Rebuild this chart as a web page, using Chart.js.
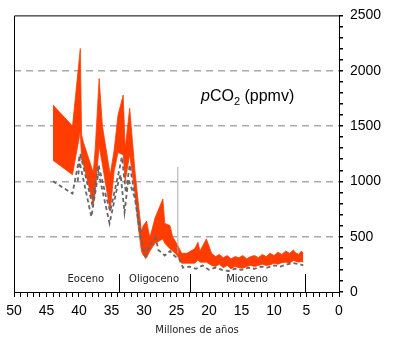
<!DOCTYPE html>
<html>
<head>
<meta charset="utf-8">
<script src="https://cdn.jsdelivr.net/npm/chart.js@4.4.1/dist/chart.umd.min.js"></script>
<style>
  html, body { margin: 0; padding: 0; background: #fff; }
  #wrap { width: 400px; height: 351px; }
</style>
</head>
<body>
<div id="wrap"><canvas id="co2Chart"></canvas></div>
<script>
// age in millions of years, band of pCO2 estimates (ppmv)
const bandAges  = [44, 41, 39.8, 39.6, 39.3, 37.8, 37.5, 36.9, 36.4, 35.2, 34.6, 34, 33.2, 32.9, 32.2, 31.4, 30.9, 30.4, 30.1, 29.6, 29.1, 28.3, 27.1, 26.8, 26, 25.6, 25.2, 24.8, 24.2, 23.4, 22.2, 21.7, 21.4, 20.4, 19.6, 19, 18.4, 17.8, 17.2, 16.6, 16, 15.4, 14.8, 14.2, 13.6, 13, 12.4, 11.8, 11.2, 10.6, 10, 9.4, 8.8, 8.2, 7.6, 7, 6.8, 6.2, 5.8, 5.5];
const bandUpper = [1690, 1500, 2200, 1420, 1350, 1080, 1300, 1930, 1500, 1060, 1280, 1600, 1780, 1300, 1660, 1100, 820, 550, 600, 640, 490, 670, 840, 620, 600, 500, 460, 420, 350, 350, 390, 450, 370, 480, 350, 320, 340, 310, 330, 300, 320, 310, 330, 300, 320, 330, 310, 340, 320, 350, 330, 360, 340, 370, 350, 380, 360, 340, 370, 350];
const bandLower = [1190, 1060, 1450, 1200, 1150, 790, 900, 1320, 1150, 730, 1090, 1260, 1240, 1000, 1240, 900, 600, 370, 330, 310, 370, 440, 480, 440, 390, 370, 350, 320, 260, 260, 260, 290, 270, 270, 240, 230, 250, 220, 240, 210, 230, 220, 215, 230, 240, 230, 240, 250, 240, 245, 260, 250, 265, 270, 260, 285, 280, 270, 275, 270];

// dashed reference curves
const lowAges  = [44, 41, 40, 38.1, 37, 35.3, 34, 33.6, 33, 32.4, 31.4, 30.6, 29.8, 29.2, 28.2, 27.8, 26.8, 26, 25.2, 24.6, 24, 23, 22, 21, 20, 19, 18, 17, 16, 15, 14, 13, 12, 11, 10, 9, 8, 7, 6, 5.5];
const lowVals  = [1000, 890, 1200, 680, 1080, 620, 980, 1060, 720, 1020, 850, 520, 320, 420, 490, 380, 330, 370, 320, 300, 220, 230, 210, 240, 200, 220, 200, 190, 210, 200, 220, 210, 230, 220, 240, 230, 250, 260, 250, 240];
const midAges  = [40.2, 39.8, 38, 37, 36, 35.2, 34, 33.4, 32.8, 32.2, 31.2, 30.4];
const midVals  = [1000, 1250, 800, 1150, 900, 730, 1050, 1220, 900, 1150, 800, 500];
const spikeAges = [24.8, 24.8];
const spikeVals = [350, 1130];

// epochs
const epochNames  = ['Eoceno', 'Oligoceno', 'Mioceno'];
const epochBounds = [44, 33.9, 23, 5.3];

const pts = (xs, ys) => xs.map((x, i) => ({ x: x, y: ys[i] }));
const red = '#ff3d00';

const decor = {
  id: 'decor',
  afterDraw(chart) {
    const { ctx, chartArea: a, scales: { x, y } } = chart;
    ctx.save();
    // frame top and left
    ctx.strokeStyle = '#000';
    ctx.lineWidth = 1;
    ctx.beginPath();
    ctx.moveTo(a.left + 0.5, a.bottom);
    ctx.lineTo(a.left + 0.5, a.top + 0.5);
    ctx.lineTo(a.right, a.top + 0.5);
    ctx.stroke();

    // epoch separators and names
    ctx.font = '10px "DejaVu Sans"';
    ctx.fillStyle = '#222';
    ctx.textAlign = 'center';
    ctx.textBaseline = 'middle';
    for (let i = 1; i < epochBounds.length; i++) {
      const px = Math.round(x.getPixelForValue(epochBounds[i])) + 0.5;
      ctx.beginPath();
      ctx.moveTo(px, a.bottom);
      ctx.lineTo(px, a.bottom - 18);
      ctx.stroke();
    }
    epochNames.forEach((n, i) => {
      const mid = (epochBounds[i] + epochBounds[i + 1]) / 2;
      ctx.fillText(n, x.getPixelForValue(mid), a.bottom - 13);
    });

    // x axis title
    ctx.fillText('Millones de años', 197, 330);

    // pCO2 label
    ctx.textAlign = 'left';
    ctx.textBaseline = 'alphabetic';
    ctx.fillStyle = '#000';
    let cx = 201, by = 100.5;
    ctx.font = 'italic 16px "Liberation Sans"';
    ctx.fillText('p', cx, by);
    cx += ctx.measureText('p').width;
    ctx.font = '16px "Liberation Sans"';
    ctx.fillText('CO', cx, by);
    cx += ctx.measureText('CO').width;
    ctx.font = '11px "Liberation Sans"';
    ctx.fillText('2', cx, by + 4);
    cx += ctx.measureText('2').width;
    ctx.font = '16px "Liberation Sans"';
    ctx.fillText(' (ppmv)', cx, by);
    ctx.restore();
  }
};

const ctx = document.getElementById('co2Chart').getContext('2d');
const co2Chart = new Chart(ctx, {
  type: 'line',
  data: {
    datasets: [
      {
        data: pts(midAges, midVals),
        borderColor: '#666',
        borderWidth: 1.8,
        borderDash: [4, 3],
        pointRadius: 0,
        fill: false
      },
      {
        data: pts(lowAges, lowVals),
        borderColor: '#666',
        borderWidth: 1.8,
        borderDash: [4, 3],
        pointRadius: 0,
        fill: false
      },
      {
        data: pts(spikeAges, spikeVals),
        borderColor: '#aaa',
        borderWidth: 1,
        pointRadius: 0,
        fill: false
      },
      {
        data: pts(bandAges, bandUpper),
        borderColor: red,
        borderWidth: 0.8,
        backgroundColor: red,
        pointRadius: 0,
        fill: '+1'
      },
      {
        data: pts(bandAges, bandLower),
        borderColor: red,
        borderWidth: 0.8,
        pointRadius: 0,
        fill: false
      }
    ]
  },
  options: {
    responsive: true,
    maintainAspectRatio: false,
    animation: false,
    devicePixelRatio: 1,
    layout: { padding: { left: 14, top: 11, right: 0, bottom: 0 } },
    plugins: { legend: { display: false }, tooltip: { enabled: false } },
    scales: {
      x: {
        type: 'linear',
        reverse: true,
        min: 0,
        max: 50,
        afterFit: s => { s.height = 59; },
        ticks: {
          stepSize: 1,
          autoSkip: false,
          maxRotation: 0,
          padding: 6,
          color: '#000',
          font: { family: 'Liberation Sans', size: 14 },
          callback: v => (v % 5 === 0 ? String(v) : '')
        },
        grid: { drawOnChartArea: false, tickColor: '#000', tickLength: 5 },
        border: { color: '#000', width: 1 }
      },
      y: {
        position: 'right',
        min: 0,
        max: 2500,
        afterFit: s => { s.width = 61; },
        ticks: {
          stepSize: 100,
          autoSkip: false,
          padding: 7,
          color: '#000',
          font: { family: 'Liberation Sans', size: 14 },
          callback: v => (v % 500 === 0 ? String(v) : '')
        },
        grid: {
          color: c => (c.tick && c.tick.value % 500 === 0 && c.tick.value > 0 && c.tick.value < 2500) ? '#aaa' : 'transparent',
          lineWidth: 1.5,
          tickColor: '#000',
          tickLength: 4
        },
        border: { color: '#000', width: 1, dash: [7, 5] }
      }
    }
  },
  plugins: [decor]
});
</script>
</body>
</html>
